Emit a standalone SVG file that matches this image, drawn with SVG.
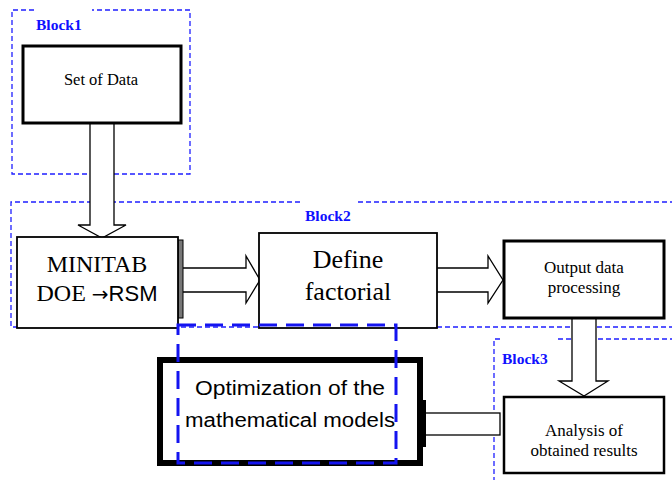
<svg xmlns="http://www.w3.org/2000/svg" width="672" height="480" viewBox="0 0 672 480">
<style>
.blk{fill:none;stroke:#1f1fff;stroke-width:1.3;stroke-dasharray:5 3}
.lbl{font-family:"Liberation Serif",serif;font-weight:bold;font-size:15.5px;fill:#1010ff}
.box{fill:#fff;stroke:#000}
.ser{font-family:"Liberation Serif",serif;fill:#000;text-anchor:middle}
.sans{font-family:"Liberation Sans",sans-serif;fill:#000;text-anchor:middle}
.arr{fill:#fff;stroke:#000;stroke-width:1.3}
</style>
<rect width="672" height="480" fill="#fff"/>
<g id="block-frames">
<path class="blk" d="M34 10 H12 V174 H190 V10 H92"/>
<path class="blk" d="M300 202 H11 V327 H672"/>
<path class="blk" d="M358 202 H672"/>
<path class="blk" d="M500 339 H494 V480"/>
<path class="blk" d="M558 339 H672"/>
<text class="lbl" x="36" y="30">Block1</text>
<text class="lbl" x="305" y="221">Block2</text>
<text class="lbl" x="502" y="364">Block3</text>
</g>
<g id="connectors">
<path class="arr" d="M90 124 V225 H78 L102 238 L126 225 H114 V124"/>
<path class="arr" d="M183 268 H246 V256 L260 280 L246 303 V292 H183"/>
<path class="arr" d="M437 268 H488 V256 L503 280 L488 303 V292 H437"/>
<path class="arr" d="M572 318 V381 H559 L584 396 L608 381 H596 V318"/>
<rect class="arr" x="423" y="413" width="77" height="22" stroke-width="1.5"/>
<rect x="423" y="400" width="3" height="47" fill="#000"/>
</g>
<g id="set-of-data">
<rect class="box" x="23" y="46" width="158" height="77" stroke-width="3"/>
<text class="ser" x="101" y="85" font-size="16.5">Set of Data</text>
</g>
<g id="minitab">
<rect x="178" y="240" width="5" height="78" fill="#777" stroke="#000" stroke-width="1"/>
<rect class="box" x="17" y="237" width="161" height="91" stroke-width="1.8"/>
<text class="ser" x="97" y="272" font-size="24">MINITAB</text>
<text class="ser" x="97" y="301" font-size="24"><tspan>DOE </tspan><tspan font-family="DejaVu Sans,sans-serif" font-size="20">→</tspan><tspan font-family="Liberation Sans,sans-serif" font-size="22">RSM</tspan></text>
</g>
<g id="define-factorial">
<rect class="box" x="259" y="233" width="178" height="95" stroke-width="1.8"/>
<text class="ser" x="348" y="268" font-size="26">Define</text>
<text class="ser" x="348" y="300" font-size="26">factorial</text>
</g>
<g id="output-data">
<rect class="box" x="504" y="241" width="160" height="77" stroke-width="3"/>
<text class="ser" x="584" y="273" font-size="17">Output data</text>
<text class="ser" x="584" y="293" font-size="17">processing</text>
</g>
<g id="analysis">
<rect class="box" x="504" y="397" width="160" height="76" stroke-width="2.5"/>
<text class="ser" x="584" y="436" font-size="17">Analysis of</text>
<text class="ser" x="584" y="456" font-size="17">obtained results</text>
</g>
<g id="optimization">
<rect class="box" x="160" y="360" width="260" height="103" stroke-width="6"/>
<text class="sans" x="290" y="395" font-size="20" textLength="190" lengthAdjust="spacingAndGlyphs">Optimization of the</text>
<text class="sans" x="290" y="427" font-size="20" textLength="210" lengthAdjust="spacingAndGlyphs">mathematical models</text>
<rect x="178" y="325" width="218" height="138" fill="none" stroke="#1414f0" stroke-width="3" stroke-dasharray="18 9"/>
</g>
</svg>
